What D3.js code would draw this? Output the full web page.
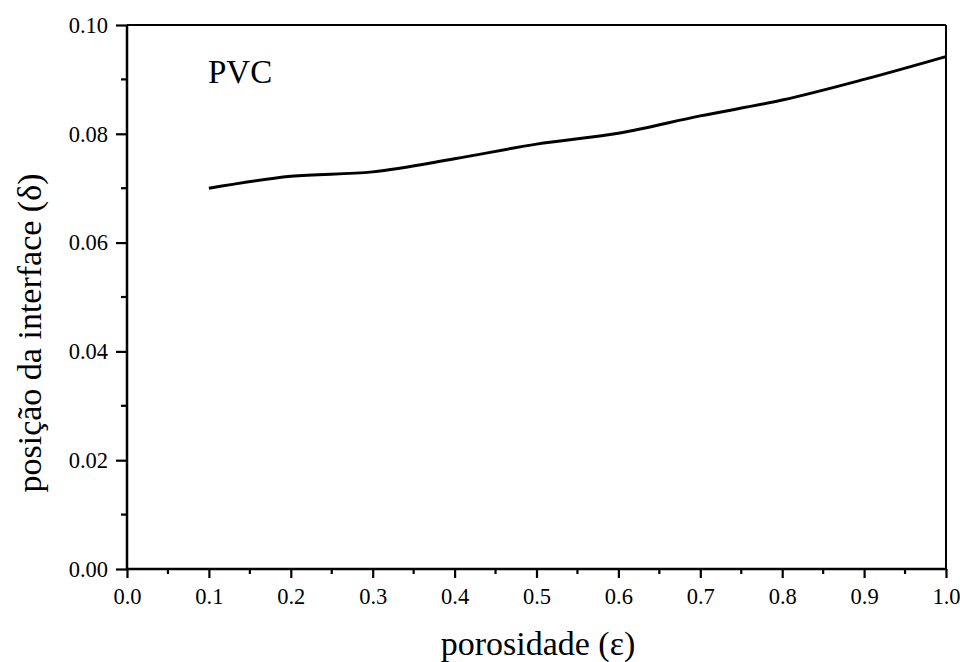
<!DOCTYPE html>
<html>
<head>
<meta charset="utf-8">
<script src="https://cdn.jsdelivr.net/npm/d3@7"></script>
<style>
  html, body { margin: 0; padding: 0; background: #fff; }
  svg { display: block; }
  text { font-family: "Liberation Serif", "Times New Roman", serif; fill: #000; }
</style>
</head>
<body>
<svg id="chart" width="960" height="662"></svg>
<script>
// Interface position versus porosity (PVC)
const porosity = [0.1, 0.2, 0.3, 0.4, 0.5, 0.6, 0.7, 0.8, 0.9, 1.0];
const interfacePos = [0.0700, 0.0722, 0.0730, 0.0754, 0.0781, 0.0801, 0.0833, 0.0862, 0.0900, 0.0942];
const xTicks = [0.0, 0.1, 0.2, 0.3, 0.4, 0.5, 0.6, 0.7, 0.8, 0.9, 1.0];
const yTicks = [0.00, 0.02, 0.04, 0.06, 0.08, 0.10];
const xMinor = [0.05, 0.15, 0.25, 0.35, 0.45, 0.55, 0.65, 0.75, 0.85, 0.95];
const yMinor = [0.01, 0.03, 0.05, 0.07, 0.09];

const svg = d3.select("#chart");
const L = 127, R = 946, T = 25, B = 569;

const x = d3.scaleLinear().domain([0, 1]).range([L, R]);
const y = d3.scaleLinear().domain([0, 0.10]).range([B, T]);

// frame: top and right edges
svg.append("line").attr("x1", L).attr("x2", R).attr("y1", T).attr("y2", T)
  .attr("stroke", "#000").attr("stroke-width", 2);
svg.append("line").attr("x1", R).attr("x2", R).attr("y1", T).attr("y2", B)
  .attr("stroke", "#000").attr("stroke-width", 2);

// bottom axis
const xAxis = svg.append("g").attr("transform", `translate(0,${B})`)
  .call(d3.axisBottom(x).tickValues(xTicks).tickFormat(d3.format(".1f"))
    .tickSize(9).tickPadding(10));
xAxis.append("g").selectAll("line").data(xMinor).join("line")
  .attr("x1", d => x(d)).attr("x2", d => x(d)).attr("y1", 0).attr("y2", 5)
  .attr("stroke", "#000").attr("stroke-width", 2.2);

// left axis
const yAxis = svg.append("g").attr("transform", `translate(${L},0)`)
  .call(d3.axisLeft(y).tickValues(yTicks).tickFormat(d3.format(".2f"))
    .tickSize(11).tickPadding(8));
yAxis.append("g").selectAll("line").data(yMinor).join("line")
  .attr("x1", 0).attr("x2", -6).attr("y1", d => y(d)).attr("y2", d => y(d))
  .attr("stroke", "#000").attr("stroke-width", 2.2);

[xAxis, yAxis].forEach(g => {
  g.select(".domain").attr("stroke-width", 2.5).attr("d",
    g === xAxis ? `M${L},0H${R}` : `M0,${B}V${T}`);
  g.selectAll(".tick line").attr("stroke-width", 2.2);
  g.selectAll("text").style("font-family", '"Liberation Serif", serif')
    .style("font-size", "22.5px").attr("fill", "#000");
});

// data curve
const line = d3.line().x((d, i) => x(porosity[i])).y(d => y(d))
  .curve(d3.curveMonotoneX);
svg.append("path").datum(interfacePos).attr("d", line)
  .attr("fill", "none").attr("stroke", "#000").attr("stroke-width", 3);

// annotation
svg.append("text").attr("x", 208).attr("y", 83)
  .style("font-size", "33px").text("PVC");

// axis titles
svg.append("text").attr("x", 538).attr("y", 655)
  .attr("text-anchor", "middle").style("font-size", "34px")
  .text("porosidade (ε)");
svg.append("text").attr("transform", "translate(41,333) rotate(-90)")
  .attr("text-anchor", "middle").style("font-size", "34px")
  .text("posição da interface (δ)");
</script>
</body>
</html>
